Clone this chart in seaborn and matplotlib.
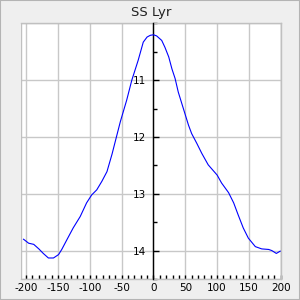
import matplotlib
matplotlib.use("Agg")
import matplotlib.pyplot as plt
from matplotlib.ticker import MultipleLocator
from matplotlib.patches import Rectangle
import seaborn as sns
import pandas as pd

title = "SS Lyr"
phase = [-204, -196, -188, -180, -173, -165, -157, -149, -144, -136, -126, -115,
         -105, -97, -89, -81, -73, -65, -60, -52, -42, -34, -24, -16, -10, -5, 0,
         5, 13, 18, 24, 29, 34, 39, 47, 55, 60, 68, 76, 86, 100, 107, 118, 126,
         133, 141, 149, 160, 170, 181, 186, 193, 199]
mag = [13.80, 13.87, 13.89, 13.97, 14.05, 14.13, 14.13, 14.07, 13.98, 13.81, 13.60,
       13.40, 13.16, 13.02, 12.93, 12.78, 12.61, 12.30, 12.08, 11.73, 11.35, 11.00,
       10.65, 10.33, 10.24, 10.21, 10.20, 10.22, 10.30, 10.42, 10.59, 10.80, 10.97,
       11.21, 11.50, 11.79, 11.94, 12.11, 12.29, 12.49, 12.67, 12.81, 12.98, 13.16,
       13.37, 13.60, 13.78, 13.93, 13.97, 13.98, 14.00, 14.05, 14.01]
x_ticks = [-200, -150, -100, -50, 0, 50, 100, 150, 200]
y_ticks = [11, 12, 13, 14]

df = pd.DataFrame({"phase": phase, "mag": mag})

fig = plt.figure(figsize=(3, 3), dpi=100, facecolor="#efefef")
fig.patches.append(Rectangle((0, 0), 1, 1, transform=fig.transFigure, fill=False,
                             edgecolor="#b4b4b4", linewidth=1.5))
ax = fig.add_axes([0.07, 0.07, 0.866, 0.852])
ax.set_facecolor("white")

sns.lineplot(data=df, x="phase", y="mag", color="#0000ff", linewidth=0.8,
             sort=False, ax=ax, zorder=4)

ax.set_xlim(-208, 200)
ax.set_ylim(14.5, 10.0)
ax.set_xlabel("")
ax.set_ylabel("")

ax.set_xticks(x_ticks)
ax.set_xticklabels([str(v) for v in x_ticks])
ax.xaxis.set_minor_locator(MultipleLocator(10))
ax.set_yticks(y_ticks)
ax.set_yticklabels([str(v) for v in y_ticks])
ax.yaxis.set_minor_locator(MultipleLocator(0.5))

ax.grid(True, which="major", color="#c8c8c8", linewidth=1.0, zorder=0)
ax.set_axisbelow(True)

for s in ["top", "right", "bottom"]:
    ax.spines[s].set_color("#c0c0c0")
    ax.spines[s].set_linewidth(1.0)
ax.spines["left"].set_position(("data", 0))
ax.spines["left"].set_color("black")
ax.spines["left"].set_linewidth(1.0)
ax.spines["left"].set_zorder(3)
ax.add_patch(Rectangle((0, 0), 1, 1, transform=ax.transAxes, fill=False,
                       edgecolor="#c0c0c0", linewidth=1.0, zorder=1))

ax.tick_params(axis="x", which="both", direction="in", length=3, width=1,
               color="black", labelsize=7.5, pad=3)
ax.tick_params(axis="y", which="major", direction="in", length=4, width=1,
               color="black", labelsize=7.5, pad=5)
ax.tick_params(axis="y", which="minor", direction="in", length=3, width=1,
               color="black")

ax.set_title(title, fontsize=9.5, pad=5.5, color="#222222")

fig.savefig("out.png", dpi=100, facecolor=fig.get_facecolor())
